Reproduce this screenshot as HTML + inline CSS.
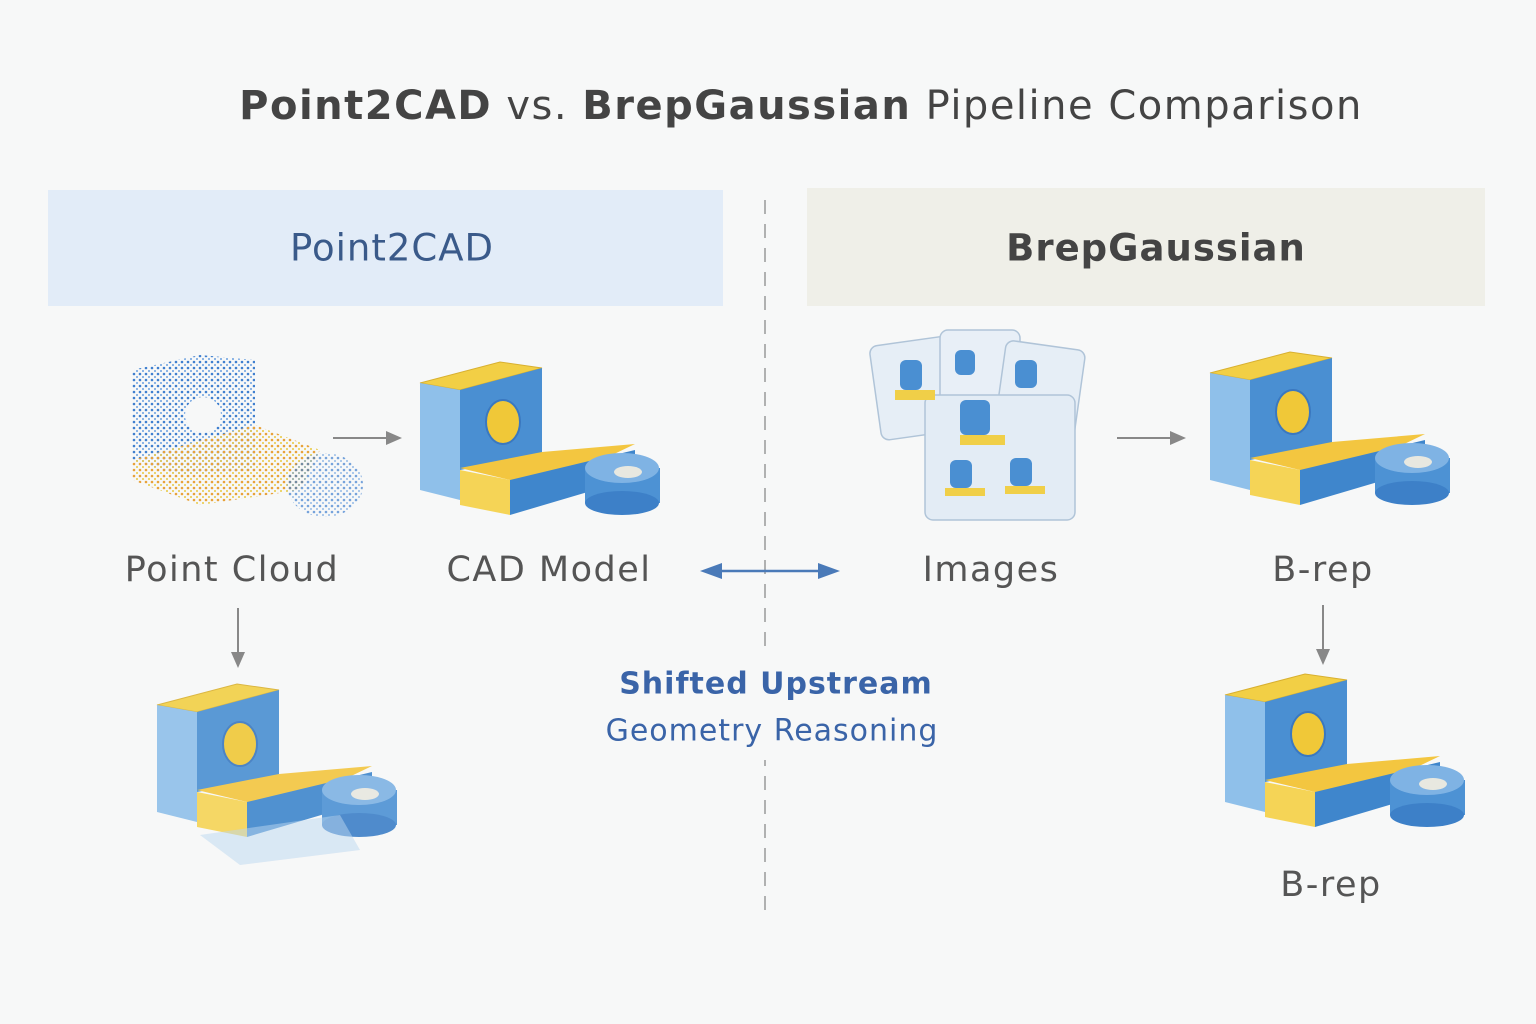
<!DOCTYPE html>
<html><head><meta charset="utf-8"><style>
html,body{margin:0;padding:0}
body{width:1536px;height:1024px;background:#f7f8f8;position:relative;overflow:hidden;font-family:"DejaVu Sans","Liberation Sans",sans-serif}
.t{position:absolute;white-space:nowrap;transform:translate(-50%,-50%)}
</style></head><body>
<svg width="1536" height="1024" style="position:absolute;left:0;top:0">
<defs>
<pattern id="dots" width="6" height="6" patternUnits="userSpaceOnUse">
<circle cx="2" cy="2" r="1.3" fill="#3f7fcf"/><circle cx="5" cy="5" r="1" fill="#6aa0e0"/></pattern>
<pattern id="dotsy" width="6" height="6" patternUnits="userSpaceOnUse">
<circle cx="2" cy="2" r="1.3" fill="#e8a23a"/><circle cx="5" cy="5" r="1" fill="#e8c840"/></pattern>
<g id="cad">
<polygon points="0,23 80,2 122,8 40,30" fill="#f2cf45" stroke="#d8b030"/>
<polygon points="0,23 40,30 40,140 0,130" fill="#8fc0ea"/>
<polygon points="40,30 122,8 122,95 40,110" fill="#4a8fd2"/>
<ellipse cx="83" cy="62" rx="17" ry="22" fill="#f0c838" stroke="#3a78c0" stroke-width="2"/>
<polygon points="40,108 122,92 215,84 140,120 90,120" fill="#f3c640"/>
<polygon points="90,120 215,90 215,118 90,155" fill="#3f86cc"/>
<polygon points="40,110 90,120 90,155 40,145" fill="#f5d456"/>
<rect x="165" y="108" width="75" height="35" fill="#4d92d4"/>
<ellipse cx="202" cy="143" rx="37" ry="12" fill="#3d80c8"/>
<ellipse cx="202" cy="108" rx="37" ry="15" fill="#7fb3e4"/>
<ellipse cx="208" cy="112" rx="14" ry="6" fill="#e8e8e0"/>
</g>
</defs>
<rect x="48" y="190" width="675" height="116" fill="#e2ecf8"/>
<rect x="807" y="188" width="678" height="118" fill="#efefe8"/>
<line x1="765" y1="200" x2="765" y2="910" stroke="#999" stroke-width="1.5" stroke-dasharray="14,10"/>
<rect x="690" y="650" width="150" height="110" fill="#f7f8f8"/>
<use href="#cad" x="420" y="360"/>
<use href="#cad" x="1210" y="350"/>
<use href="#cad" x="1225" y="672"/>
<g opacity="0.9"><use href="#cad" x="157" y="682"/></g>
<polygon points="200,835 340,815 360,850 240,865" fill="#bcd8f0" opacity="0.5"/>
<g>
<polygon points="132,370 200,355 255,360 255,470 180,475 132,460" fill="url(#dots)"/>
<circle cx="203" cy="415" r="18" fill="#f7f8f8"/>
<polygon points="132,460 255,425 320,450 300,490 200,505 132,480" fill="url(#dotsy)"/>
<ellipse cx="325" cy="485" rx="38" ry="32" fill="url(#dots)" opacity="0.7"/>
</g>
<g stroke="#b0c4d8" stroke-width="1.5">
<rect x="875" y="340" width="90" height="95" rx="8" fill="#e6eef6" transform="rotate(-8 920 387)"/>
<rect x="940" y="330" width="80" height="85" rx="8" fill="#e8eff7"/>
<rect x="1000" y="345" width="80" height="90" rx="8" fill="#e6eef6" transform="rotate(8 1040 390)"/>
<rect x="925" y="395" width="150" height="125" rx="8" fill="#e3ecf5"/>
</g>
<g fill="#4a8fd2"><rect x="900" y="360" width="22" height="30" rx="6"/><rect x="955" y="350" width="20" height="25" rx="6"/><rect x="1015" y="360" width="22" height="28" rx="6"/><rect x="960" y="400" width="30" height="35" rx="6"/><rect x="950" y="460" width="22" height="28" rx="6"/><rect x="1010" y="458" width="22" height="28" rx="6"/></g>
<g fill="#f0cf48"><rect x="895" y="390" width="40" height="10"/><rect x="960" y="435" width="45" height="10"/><rect x="945" y="488" width="40" height="8"/><rect x="1005" y="486" width="40" height="8"/></g>
<g stroke="#888" stroke-width="2" fill="#888">
<line x1="333" y1="438" x2="390" y2="438"/><polygon points="402,438 386,431 386,445" stroke="none"/>
<line x1="1117" y1="438" x2="1173" y2="438"/><polygon points="1186,438 1170,431 1170,445" stroke="none"/>
<line x1="238" y1="608" x2="238" y2="655"/><polygon points="238,668 231,652 245,652" stroke="none"/>
<line x1="1323" y1="605" x2="1323" y2="652"/><polygon points="1323,665 1316,649 1330,649" stroke="none"/>
</g>
<g stroke="#4a7ab8" stroke-width="2.5" fill="#4a7ab8">
<line x1="715" y1="571" x2="825" y2="571"/>
<polygon points="700,571 722,563 722,579" stroke="none"/><polygon points="840,571 818,563 818,579" stroke="none"/>
</g>
</svg>
<div class="t" style="left:801px;top:106px;font-size:40px;color:#444;letter-spacing:1.5px"><b>Point2CAD</b> vs. <b>BrepGaussian</b> Pipeline Comparison</div>
<div class="t" style="left:392px;top:248px;font-size:37px;color:#3a5a8a;letter-spacing:1px">Point2CAD</div>
<div class="t" style="left:1156px;top:248px;font-size:37px;color:#444;font-weight:bold;letter-spacing:1px">BrepGaussian</div>
<div class="t" style="left:232px;top:570px;font-size:35px;color:#555;letter-spacing:1.5px">Point Cloud</div>
<div class="t" style="left:549px;top:570px;font-size:35px;color:#555;letter-spacing:1.5px">CAD Model</div>
<div class="t" style="left:991px;top:570px;font-size:35px;color:#555;letter-spacing:1.5px">Images</div>
<div class="t" style="left:1323px;top:570px;font-size:35px;color:#555;letter-spacing:1.5px">B-rep</div>
<div class="t" style="left:1331px;top:885px;font-size:35px;color:#555;letter-spacing:1.5px">B-rep</div>
<div class="t" style="left:776px;top:684px;font-size:30px;color:#3a64a8;font-weight:bold;letter-spacing:1px">Shifted Upstream</div>
<div class="t" style="left:772px;top:731px;font-size:30px;color:#3a64a8;letter-spacing:1px">Geometry Reasoning</div>
</body></html>
